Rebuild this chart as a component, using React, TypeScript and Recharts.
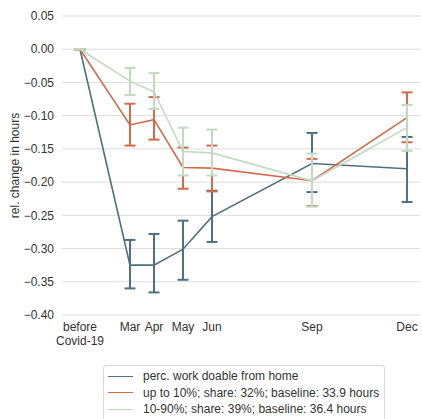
import React from 'react';
import { LineChart, Line, XAxis, YAxis, CartesianGrid, ErrorBar } from 'recharts';

const periodLabels = ['before\nCovid-19', 'Mar', 'Apr', 'May', 'Jun', 'Sep', 'Dec'];
const periodX = [1.458, 3.008, 3.752, 4.652, 5.551, 8.652, 11.598];
const yTicks = [-0.4, -0.35, -0.3, -0.25, -0.2, -0.15, -0.1, -0.05, 0, 0.05];

const seriesNames = [
  'perc. work doable from home',
  'up to 10%; share: 32%; baseline: 33.9 hours',
  '10-90%; share: 39%; baseline: 36.4 hours',
];
const seriesColors = ['#50707f', '#d4694c', '#c2dbc0'];

const blueVal = [0, -0.325, -0.325, -0.301, -0.252, -0.172, -0.18];
const blueLow = [0, -0.36, -0.366, -0.347, -0.29, -0.215, -0.23];
const blueHigh = [0, -0.287, -0.278, -0.258, -0.213, -0.126, -0.132];

const redVal = [0, -0.114, -0.106, -0.178, -0.179, -0.198, -0.103];
const redLow = [0, -0.145, -0.136, -0.21, -0.214, -0.236, -0.14];
const redHigh = [0, -0.082, -0.072, -0.148, -0.145, -0.165, -0.065];

const greenVal = [0, -0.048, -0.064, -0.154, -0.156, -0.198, -0.118];
const greenLow = [0, -0.069, -0.09, -0.19, -0.19, -0.237, -0.153];
const greenHigh = [0, -0.028, -0.036, -0.118, -0.121, -0.157, -0.084];

const data = periodX.map((x, i) => ({
  x,
  blue: blueVal[i],
  blueErr: [blueVal[i] - blueLow[i], blueHigh[i] - blueVal[i]],
  red: redVal[i],
  redErr: [redVal[i] - redLow[i], redHigh[i] - redVal[i]],
  green: greenVal[i],
  greenErr: [greenVal[i] - greenLow[i], greenHigh[i] - greenVal[i]],
}));

const FONT = '"Liberation Sans", Arial, sans-serif';
const FS = 12;

const XTick = (props: any) => {
  const { x, y, payload } = props;
  const idx = periodX.indexOf(payload.value);
  const label = idx >= 0 ? periodLabels[idx] : '';
  const lines = label.split('\n');
  return (
    <text x={x} y={y} textAnchor="middle" fill="#333" fontSize={FS} fontFamily={FONT}>
      {lines.map((l, i) => (
        <tspan key={i} x={x} dy={i === 0 ? 8 : 13.5}>{l}</tspan>
      ))}
    </text>
  );
};

const fmtY = (v: number) => {
  const s = Math.abs(v).toFixed(2);
  return v < -1e-9 ? '\u2212' + s : s;
};

export default function App() {
  const keys = ['blue', 'red', 'green'];
  return (
    <div style={{ position: 'absolute', left: 0, top: 0, width: 422, height: 419, overflow: 'hidden', background: '#fff' }}>
      <LineChart width={422} height={419} data={data} margin={{ top: 16, right: 2, bottom: 64, left: 10 }}>
        <CartesianGrid vertical={false} stroke="#dddddd" strokeWidth={1} />
        <XAxis
          dataKey="x"
          type="number"
          domain={[0.9, 12.0]}
          ticks={periodX}
          interval={0}
          axisLine={false}
          tickLine={false}
          tick={<XTick />}
          height={40}
        />
        <YAxis
          type="number"
          domain={[-0.4, 0.05]}
          ticks={yTicks}
          interval={0}
          axisLine={false}
          tickLine={false}
          tickFormatter={fmtY}
          tick={{ fill: '#333', fontSize: FS, fontFamily: FONT }}
          width={52}
          label={{ value: 'rel. change in hours', angle: -90, position: 'insideLeft', offset: 5, style: { textAnchor: 'middle', fill: '#333', fontSize: FS, fontFamily: FONT } }}
        />
        {keys.map((k, i) => (
          <Line
            key={k}
            type="linear"
            dataKey={k}
            stroke={seriesColors[i]}
            strokeWidth={1.6}
            dot={false}
            activeDot={false}
            isAnimationActive={false}
          >
            <ErrorBar dataKey={k + 'Err'} direction="y" width={5.5} stroke={seriesColors[i]} strokeWidth={2} />
          </Line>
        ))}
      </LineChart>
      <div
        style={{
          position: 'absolute',
          left: 103,
          top: 365,
          width: 282,
          height: 70,
          border: '1px solid #d9d9d9',
          borderRadius: 3,
          background: '#fff',
          boxSizing: 'border-box',
          paddingTop: 2,
          fontFamily: FONT,
          fontSize: FS,
          color: '#333',
        }}
      >
        {seriesNames.map((n, i) => (
          <div key={n} style={{ display: 'flex', alignItems: 'center', height: 16.5, lineHeight: '16.5px', whiteSpace: 'nowrap' }}>
            <div style={{ width: 25, height: 0, borderTop: `1.6px solid ${seriesColors[i]}`, marginLeft: 4, marginRight: 10 }} />
            <span>{n}</span>
          </div>
        ))}
      </div>
    </div>
  );
}
